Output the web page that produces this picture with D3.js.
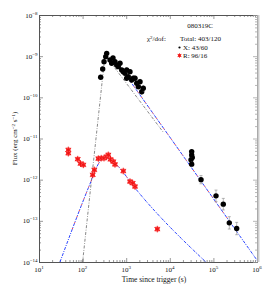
<!DOCTYPE html>
<html>
<head>
<meta charset="utf-8">
<script src="https://cdn.jsdelivr.net/npm/d3@7"></script>
<style>
  body { margin: 0; background: #fff; }
  text { font-family: "Liberation Serif", "DejaVu Serif", serif; fill: #111; }
</style>
</head>
<body>
<div id="chart"></div>
<script>
var width = 270, height = 291;
var margin = { top: 15, right: 13, bottom: 29, left: 39 };

// X-ray points: time (s), flux, flux error (dex), time error (dex)
var xrayTime = [260, 289, 310, 339, 357, 425, 465, 498, 553, 605, 659, 721, 789, 857, 938,
                1026, 1026, 1117, 1222, 1337, 1455, 1592, 1742, 1897, 2075, 2270, 2466,
                31770, 31770, 32810, 30620, 31770, 52000, 114800, 168700, 231700, 342000];
var xrayFlux = [3.08e-10, 4.89e-10, 7.36e-10, 9.72e-10, 1.17e-9, 8.09e-10, 6.73e-10, 9.04e-10, 7.36e-10, 6.11e-10, 5.56e-10, 6.73e-10, 4.62e-10, 4.21e-10, 3.85e-10,
                4.62e-10, 2.91e-10, 3.18e-10, 4.21e-10, 2.64e-10, 2.91e-10, 2.91e-10, 2.20e-10, 1.82e-10, 2.40e-10, 1.37e-10, 1.66e-10,
                4.81e-12, 4.00e-12, 3.44e-12, 3.03e-12, 2.38e-12, 1.00e-12, 4.05e-13, 2.54e-13, 8.93e-14, 6.50e-14];
var xrayErr  = [0.06, 0.06, 0.05, 0.05, 0.05, 0.05, 0.05, 0.05, 0.05, 0.05, 0.06, 0.05, 0.06, 0.06, 0.06,
                0.06, 0.06, 0.06, 0.06, 0.07, 0.07, 0.07, 0.07, 0.08, 0.07, 0.08, 0.08,
                0.06, 0.06, 0.06, 0.06, 0.07, 0.10, 0.14, 0.14, 0.15, 0.15];
var xrayTErr = [0.01, 0.01, 0.01, 0.01, 0.01, 0.01, 0.01, 0.01, 0.01, 0.01, 0.01, 0.01, 0.01, 0.01, 0.01,
                0.01, 0.01, 0.01, 0.01, 0.01, 0.01, 0.01, 0.01, 0.01, 0.01, 0.01, 0.01,
                0.01, 0.01, 0.01, 0.01, 0.01, 0.03, 0.04, 0.03, 0.04, 0.04];

// R band points
var optTime = [47, 47, 77.3, 89.5, 103.8, 170.6, 185.4, 229.1, 267.3, 309.7, 357.3, 388.1, 436.5, 505.8, 553.4, 857, 1222, 1409, 1592, 5164];
var optFlux = [5.28e-12, 4.40e-12, 3.15e-12, 2.46e-12, 2.29e-12, 1.31e-12, 1.73e-12, 3.25e-12, 3.33e-12, 3.33e-12, 3.64e-12, 4.00e-12, 3.11e-12, 2.75e-12, 2.35e-12, 1.62e-12, 8.99e-13, 8.22e-13, 6.81e-13, 6.30e-14];

// model curves: [time, flux]
var flareModel = [[100, 1e-14], [327, 1.07e-9], [6980, 1.45e-11]];
var xrayModel  = [[631, 6.76e-10], [1.07e6, 1e-14]];
var xrayFitRange = [661, 2.8e5];
var optModel   = [[30.3, 1e-14], [161.8, 1e-12], [229, 2.4e-12], [316, 3.39e-12], [417, 3.16e-12],
                  [631, 2.19e-12], [1585, 6.3e-13], [70150, 9.55e-15]];
var optFitRange = [56, 1780];

var xTickVals = [1e1, 1e2, 1e3, 1e4, 1e5, 1e6];
var yTickVals = [1e-8, 1e-9, 1e-10, 1e-11, 1e-12, 1e-13, 1e-14];

var legendLines = ["080319C", "Total: 403/120", "X: 43/60", "R: 96/16"];

var iw = width - margin.left - margin.right,
    ih = height - margin.top - margin.bottom;

var svg = d3.select("#chart").append("svg")
    .attr("width", width)
    .attr("height", height);

var x = d3.scaleLog().domain([1e1, 1e6]).range([margin.left, margin.left + iw]);
var y = d3.scaleLog().domain([1e-14, 1e-8]).range([margin.top + ih, margin.top]);

svg.append("defs").append("clipPath").attr("id", "clip")
    .append("rect")
    .attr("x", margin.left).attr("y", margin.top)
    .attr("width", iw).attr("height", ih);

// minor tick values for both axes
var xMinor = [], yMinor = [];
for (var e = 1; e < 6; e++) for (var m = 2; m < 10; m++) xMinor.push(m * Math.pow(10, e));
for (var e2 = -14; e2 < -8; e2++) for (var m2 = 2; m2 < 10; m2++) yMinor.push(m2 * Math.pow(10, e2));

var frame = svg.append("g");

function tickAxis(axisFn, scale, vals, size, tx, color) {
    frame.append("g")
        .attr("transform", tx)
        .call(axisFn(scale).tickValues(vals).tickSize(size).tickFormat(""))
        .call(function (g) {
            g.select(".domain").attr("stroke", color);
            g.selectAll(".tick line").attr("stroke", color).attr("stroke-width", 0.6);
        });
}

// ticks point inwards on all four sides
tickAxis(d3.axisTop,    x, xTickVals, 4, "translate(0," + (margin.top + ih) + ")", "#555");
tickAxis(d3.axisTop,    x, xMinor,    2, "translate(0," + (margin.top + ih) + ")", "#555");
tickAxis(d3.axisBottom, x, xTickVals, 4, "translate(0," + margin.top + ")", "#555");
tickAxis(d3.axisBottom, x, xMinor,    2, "translate(0," + margin.top + ")", "#555");
tickAxis(d3.axisRight,  y, yTickVals, 4, "translate(" + margin.left + ",0)", "#555");
tickAxis(d3.axisRight,  y, yMinor,    2, "translate(" + margin.left + ",0)", "#555");
tickAxis(d3.axisLeft,   y, yTickVals, 4, "translate(" + (margin.left + iw) + ",0)", "#888");
tickAxis(d3.axisLeft,   y, yMinor,    2, "translate(" + (margin.left + iw) + ",0)", "#888");

frame.append("line")
    .attr("x1", margin.left + iw + 1.5).attr("x2", margin.left + iw + 1.5)
    .attr("y1", margin.top).attr("y2", margin.top + ih)
    .attr("stroke", "#ccc").attr("stroke-width", 2);

// tick labels as 10^n
function powLabel(g, xp, yp, exp, anchor) {
    var t = g.append("text")
        .attr("x", xp).attr("y", yp)
        .attr("text-anchor", anchor)
        .style("font-size", "7px");
    t.append("tspan").text("10");
    t.append("tspan").attr("dy", -3).style("font-size", "5px").text(exp);
}

xTickVals.forEach(function (v) {
    powLabel(svg, x(v), margin.top + ih + 10, String(Math.round(Math.log10(v))), "middle");
});
yTickVals.forEach(function (v) {
    powLabel(svg, margin.left - 1.5, y(v) + 2.5, "\u2212" + String(-Math.round(Math.log10(v))), "end");
});

svg.append("text")
    .attr("x", margin.left + iw / 2 + 6).attr("y", 282)
    .attr("text-anchor", "middle")
    .style("font-size", "7.5px")
    .text("Time since trigger (s)");

var yt = svg.append("text")
    .attr("transform", "translate(17," + (margin.top + ih / 2) + ") rotate(-90)")
    .attr("text-anchor", "middle")
    .style("font-size", "7px");
yt.append("tspan").text("Flux (erg  cm");
yt.append("tspan").attr("dy", -2.5).style("font-size", "5px").text("\u22122");
yt.append("tspan").attr("dy", 2.5).text(" s");
yt.append("tspan").attr("dy", -2.5).style("font-size", "5px").text("\u22121");
yt.append("tspan").attr("dy", 2.5).text(")");

// model lines
var plot = svg.append("g").attr("clip-path", "url(#clip)");

var line = d3.line()
    .x(function (d) { return x(d[0]); })
    .y(function (d) { return y(d[1]); });
var smooth = d3.line()
    .x(function (d) { return x(d[0]); })
    .y(function (d) { return y(d[1]); })
    .curve(d3.curveMonotoneX);

plot.append("path")
    .attr("d", line(flareModel))
    .attr("fill", "none")
    .attr("stroke", "#555")
    .attr("stroke-width", 0.7)
    .attr("stroke-dasharray", "3,1.5,0.8,1.5");

function modelLine(pts, range, gen) {
    plot.append("path")
        .attr("d", gen(pts))
        .attr("fill", "none")
        .attr("stroke", "#2b45ff")
        .attr("stroke-width", 1)
        .attr("stroke-dasharray", "3,1.2,1,1.2");
    var clipId = "r" + Math.round(range[0]);
    svg.select("defs").append("clipPath").attr("id", clipId)
        .append("rect")
        .attr("x", x(range[0])).attr("y", margin.top)
        .attr("width", x(range[1]) - x(range[0])).attr("height", ih);
    plot.append("g").attr("clip-path", "url(#" + clipId + ")")
        .append("path")
        .attr("d", gen(pts))
        .attr("fill", "none")
        .attr("stroke", "#ff2a2a")
        .attr("stroke-width", 0.9)
        .attr("stroke-dasharray", "1.2,5.2")
        .attr("stroke-dashoffset", -3);
}
modelLine(xrayModel, xrayFitRange, line);
modelLine(optModel, optFitRange, smooth);

// X-ray data
var xdat = xrayTime.map(function (t, i) {
    return { t: t, f: xrayFlux[i], e: xrayErr[i], te: xrayTErr[i] };
});
var xg = plot.append("g").selectAll("g").data(xdat).enter().append("g");
xg.append("line")
    .attr("x1", function (d) { return x(d.t); }).attr("x2", function (d) { return x(d.t); })
    .attr("y1", function (d) { return y(d.f * Math.pow(10, d.e)); })
    .attr("y2", function (d) { return y(d.f / Math.pow(10, d.e)); })
    .attr("stroke", "#888").attr("stroke-width", 0.6);
xg.append("line")
    .attr("x1", function (d) { return x(d.t / Math.pow(10, d.te)); })
    .attr("x2", function (d) { return x(d.t * Math.pow(10, d.te)); })
    .attr("y1", function (d) { return y(d.f); }).attr("y2", function (d) { return y(d.f); })
    .attr("stroke", "#888").attr("stroke-width", 0.6);
xg.filter(function (d) { return d.e > 0.09; }).each(function (d) {
    var g = d3.select(this);
    [d.f * Math.pow(10, d.e), d.f / Math.pow(10, d.e)].forEach(function (v) {
        g.append("line")
            .attr("x1", x(d.t) - 1.5).attr("x2", x(d.t) + 1.5)
            .attr("y1", y(v)).attr("y2", y(v))
            .attr("stroke", "#888").attr("stroke-width", 0.6);
    });
});
xg.append("circle")
    .attr("cx", function (d) { return x(d.t); })
    .attr("cy", function (d) { return y(d.f); })
    .attr("r", 2.7)
    .attr("fill", "#000");

// R band data
var star = d3.symbol().type(d3.symbolAsterisk).size(30);
var og = plot.append("g").selectAll("g")
    .data(optTime.map(function (t, i) { return { t: t, f: optFlux[i] }; }))
    .enter().append("g")
    .attr("transform", function (d) { return "translate(" + x(d.t) + "," + y(d.f) + ")"; });
og.append("rect")
    .attr("x", -2.3).attr("y", -2.3).attr("width", 4.6).attr("height", 4.6)
    .attr("fill", "#ff4a4a");
og.append("path")
    .attr("d", star)
    .attr("fill", "none")
    .attr("stroke", "#ee1111")
    .attr("stroke-width", 0.9);

// legend
var leg = svg.append("g").style("font-size", "7px");
leg.append("text").attr("x", 200).attr("y", 28).attr("text-anchor", "middle").text(legendLines[0]);
var chi = leg.append("text").attr("x", 147).attr("y", 41);
chi.append("tspan").text("\u03c7");
chi.append("tspan").attr("dy", -2.5).style("font-size", "5px").text("2");
chi.append("tspan").attr("dy", 2.5).text("/dof:");
leg.append("text").attr("x", 180).attr("y", 41).text(legendLines[1]);
leg.append("circle").attr("cx", 179.5).attr("cy", 47.5).attr("r", 1.1).attr("fill", "#000");
leg.append("text").attr("x", 183).attr("y", 50).text(legendLines[2]);
leg.append("rect").attr("x", 178).attr("y", 54).attr("width", 3).attr("height", 3).attr("fill", "#ff4a4a");
leg.append("path")
    .attr("transform", "translate(179.5,55.5)")
    .attr("d", d3.symbol().type(d3.symbolAsterisk).size(14))
    .attr("fill", "none").attr("stroke", "#ee1111").attr("stroke-width", 0.8);
leg.append("text").attr("x", 183).attr("y", 58).text(legendLines[3]);
</script>
</body>
</html>
